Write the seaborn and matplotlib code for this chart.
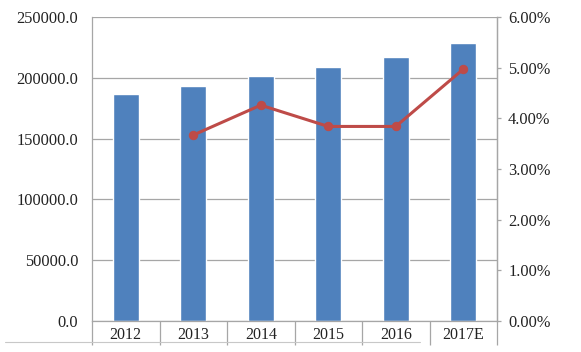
import matplotlib.pyplot as plt
import matplotlib.ticker as mticker
import numpy as np
import pandas as pd
import seaborn as sns

# Data
years = ["2012", "2013", "2014", "2015", "2016", "2017E"]
values = [186700, 193000, 201700, 209100, 217300, 228600]
growth_years = ["2013", "2014", "2015", "2016", "2017E"]
growth = [0.0367, 0.0426, 0.0384, 0.0384, 0.0497]

bar_color = "#4F81BD"
line_color = "#BE4B48"
grid_color = "#A6A6A6"

sns.set_theme(style="white")
plt.rcParams["font.family"] = ["Liberation Serif", "DejaVu Serif"]

fig = plt.figure(figsize=(5.81, 3.52), dpi=100)
ax = fig.add_axes([92 / 581, 31 / 352, 405 / 581, 304 / 352])

df = pd.DataFrame({"year": years, "value": values})
sns.barplot(data=df, x="year", y="value", order=years, color=bar_color,
            saturation=1, width=0.39, ax=ax)

ax.set_ylim(0, 250000)
ax.set_xlim(-0.5, len(years) - 0.5)
ax.yaxis.set_major_locator(mticker.MultipleLocator(50000))
ax.yaxis.set_major_formatter(mticker.FormatStrFormatter("%.1f"))
ax.grid(axis="y", color=grid_color, linewidth=0.9)
ax.set_axisbelow(True)
ax.set_xlabel("")
ax.set_ylabel("")

# category separators below the axis
ax.set_xticks(np.arange(len(years) + 1) - 0.5, minor=True)
ax.tick_params(axis="x", which="major", length=0, pad=4, labelsize=11.5, colors="#222222")
ax.tick_params(axis="x", which="minor", bottom=True, length=17, width=0.9,
               color=grid_color, direction="out")
ax.tick_params(axis="y", length=0, pad=10, labelsize=11.8, colors="#222222")

for side in ["left", "bottom", "right"]:
    ax.spines[side].set_color(grid_color)
    ax.spines[side].set_linewidth(0.9)
ax.spines["top"].set_visible(False)

# growth rate on secondary axis
ax2 = ax.twinx()
gdf = pd.DataFrame({"x": [years.index(y) for y in growth_years], "growth": growth})
sns.lineplot(data=gdf, x="x", y="growth", color=line_color, linewidth=2.2,
             marker="o", markersize=6, markeredgecolor=line_color, ax=ax2)
ax2.set_ylim(0, 0.06)
ax2.set_xlim(-0.5, len(years) - 0.5)
ax2.yaxis.set_major_locator(mticker.MultipleLocator(0.01))
ax2.yaxis.set_major_formatter(mticker.FuncFormatter(lambda v, _: f"{v * 100:.2f}%"))
ax2.tick_params(axis="y", right=True, length=3, width=0.9, color=grid_color,
                direction="out", pad=5, labelsize=11.8, colors="#222222")
ax2.set_ylabel("")
ax2.set_xlabel("")
for side in ["left", "bottom", "top"]:
    ax2.spines[side].set_visible(False)
ax2.spines["right"].set_color(grid_color)
ax2.spines["right"].set_linewidth(0.9)

# faint frame line at the bottom of the picture
fig.add_artist(plt.Line2D([5 / 581, 420 / 581], [10 / 352, 10 / 352],
                          color="#C8C8C8", linewidth=0.8))

fig.savefig("out.png", dpi=100)
